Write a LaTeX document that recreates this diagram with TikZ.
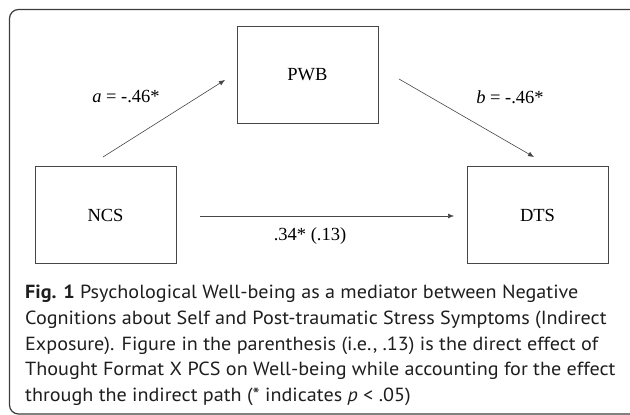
\documentclass[tikz,border=0pt]{standalone}
\usepackage{fontspec}
\setmainfont{Liberation Serif}
\newfontfamily\capfont[FakeStretch=1.06]{PT Sans}
\usetikzlibrary{arrows.meta}
\definecolor{framec}{RGB}{60,60,60}
\definecolor{linec}{RGB}{70,70,70}
\definecolor{textc}{RGB}{30,30,30}
\begin{document}
\begin{tikzpicture}[x=1pt,y=-1pt,
  varbox/.style={draw=linec,line width=0.9pt,minimum width=141pt,minimum height=97pt,inner sep=0pt,font=\fontsize{18.5}{22}\selectfont,text=black},
  path/.style={draw=linec,line width=0.6pt,-{Latex[length=6pt,width=5pt]}},
  lbl/.style={font=\fontsize{18.5}{22}\selectfont,text=black,inner sep=0pt},
  capline/.style={anchor=base west,inner sep=0pt,font=\capfont\fontsize{19}{22}\selectfont,text=textc}]
\useasboundingbox (0,0) rectangle (630,415);
\begin{scope}
\clip (0,0) rectangle (630,415);
\draw[framec,line width=1.2pt,rounded corners=9pt] (9.5,9.5) rectangle (640,414);
\end{scope}
\node[varbox] (pwb) at (307.5,74.5) {PWB};
\node[varbox] (ncs) at (105.5,215) {NCS};
\node[varbox] (dts) at (537.5,215) {DTS};
\coordinate (a1) at (103,157);
\coordinate (a2) at (225,80);
\coordinate (b1) at (399,79);
\coordinate (b2) at (534,157);
\coordinate (c1) at (200,216);
\coordinate (c2) at (454,216);
\draw[path] (a1) -- (a2);
\draw[path] (b1) -- (b2);
\draw[path] (c1) -- (c2);
\node[lbl] (la) at (126,97) {\textit{a} = -.46*};
\node[lbl] (lb) at (510,97) {\textit{b} = -.46*};
\node[lbl] (lc) at (310,236) {.34* (.13)};
\node[capline] (cap1) at (25,298) {\textbf{Fig. 1} Psychological Well-being as a mediator between Negative};
\node[capline] (cap2) at (25,324.5) {Cognitions about Self and Post-traumatic Stress Symptoms (Indirect};
\node[capline] (cap3) at (25,350) {Exposure). Figure in the parenthesis (i.e., .13) is the direct effect of};
\node[capline] (cap4) at (25,375.5) {Thought Format X PCS on Well-being while accounting for the effect};
\node[capline] (cap5) at (25,401) {through the indirect path (* indicates \textit{p} < .05)};
\end{tikzpicture}
\end{document}
